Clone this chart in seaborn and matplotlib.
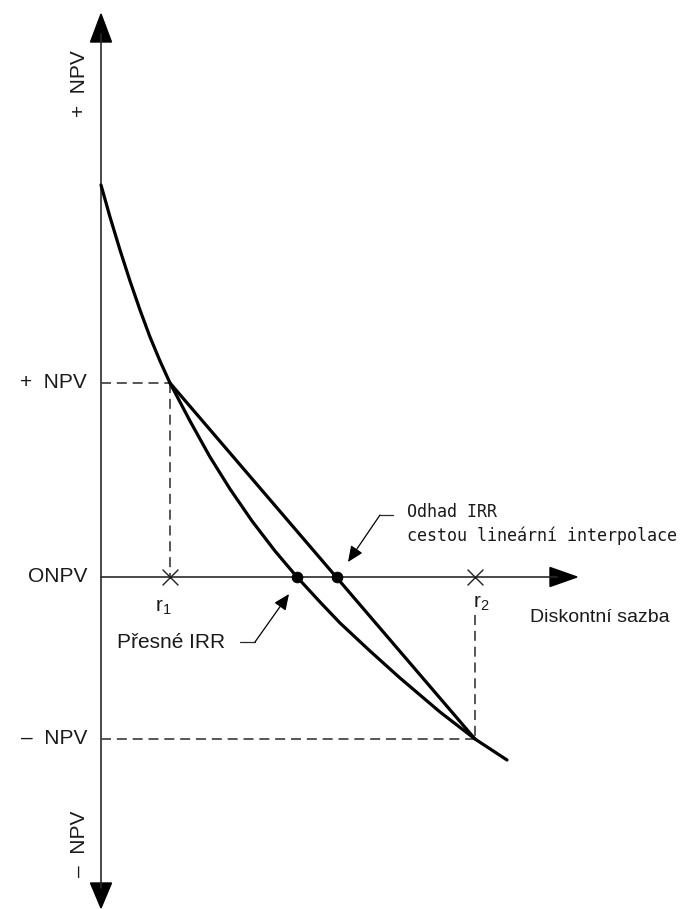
import pandas as pd
import seaborn as sns
import matplotlib.pyplot as plt

# NPV profile (arbitrary units, origin where the axes cross)
rate = [0, 9, 19, 29, 39, 49, 59, 69, 89, 109, 129, 151, 174, 196,
        219, 239, 269, 299, 339, 374, 406]
npv = [392, 360, 327, 296, 267, 240, 216, 194, 156, 120, 88, 56, 26, 0,
       -25, -46, -74, -101, -135, -162, -183]

# the two trial rates and their NPVs
r1, r2 = 69, 374
npv_plus, npv_minus = 194, -162
irr_exact = 196
irr_linear = 236

# axis extents
x_end = 476
y_top, y_bottom = 563, -331

y_labels = ["+  NPV", "ONPV", "\u2013  NPV"]
y_label_vals = [npv_plus, 0, npv_minus]

sns.set_style("white")
plt.rcParams["font.family"] = ["Liberation Sans", "DejaVu Sans"]

fig = plt.figure(figsize=(6.98, 9.09), dpi=100)
ax = fig.add_axes([0, 0, 1, 1])
ax.set_xlim(-101, 597)
ax.set_ylim(-332, 577)
ax.axis("off")

axis_col = "#2a2a2a"
dash_col = "#3a3a3a"
txt_col = "#1a1a1a"

# axes with filled arrowheads
ax.plot([0, 0], [y_bottom + 20, y_top - 20], color=axis_col, lw=1.2)
ax.fill([-10.5, 10.5, 0], [y_top - 28, y_top - 28, y_top], color="black")
ax.fill([-10.5, 10.5, 0], [y_bottom + 25, y_bottom + 25, y_bottom], color="black")
ax.plot([0, x_end - 20], [0, 0], color=axis_col, lw=1.2)
ax.fill([x_end - 27, x_end - 27, x_end], [9.5, -9.5, 0], color="black")

# dashed guides
dash = (0, (6, 3.5))
ax.plot([0, r1], [npv_plus, npv_plus], color=dash_col, lw=1.2, ls=dash)
ax.plot([r1, r1], [npv_plus, 0], color=dash_col, lw=1.2, ls=dash)
ax.plot([0, r2], [npv_minus, npv_minus], color=dash_col, lw=1.2, ls=dash)
ax.plot([r2, r2], [-38, npv_minus], color=dash_col, lw=1.2, ls=dash)

# NPV curve and the interpolation chord
curve_df = pd.DataFrame({"rate": rate, "npv": npv})
sns.lineplot(data=curve_df, x="rate", y="npv", sort=False, estimator=None,
             color="black", linewidth=2.3, ax=ax)
chord_df = pd.DataFrame({"rate": [r1, r2], "npv": [npv_plus, npv_minus]})
sns.lineplot(data=chord_df, x="rate", y="npv", sort=False, estimator=None,
             color="black", linewidth=2.3, ax=ax)

# trial rates on the axis and the two IRR points
sns.scatterplot(x=[r1, r2], y=[0, 0], marker="x", s=130, linewidth=1.0,
                color="#222222", ax=ax, zorder=4)
sns.scatterplot(x=[irr_exact, irr_linear], y=[0, 0], s=60, color="black",
                edgecolor="black", ax=ax, zorder=5)

# labels on the vertical axis
for lab, val in zip(y_labels, y_label_vals):
    ax.text(-14, val, lab, ha="right", va="center", fontsize=15, color=txt_col)
ax.text(-21, 493, "+  NPV", rotation=90, ha="center", va="center",
        fontsize=15, color=txt_col)
ax.text(-21, -267, "\u2013  NPV", rotation=90, ha="center", va="center",
        fontsize=15, color=txt_col)

ax.text(r1 - 15, -30, r"$\mathregular{r_1}$", ha="left", va="center",
        fontsize=15, color=txt_col)
ax.text(r2 - 2, -26, r"$\mathregular{r_2}$", ha="left", va="center",
        fontsize=15, color=txt_col)
ax.text(429, -41, "Diskontní sazba", ha="left", va="center",
        fontsize=14, color=txt_col)

# annotations
ax.text(306, 53, "Odhad IRR\ncestou lineární interpolace", ha="left",
        va="center", fontsize=12, family="DejaVu Sans Mono", linespacing=1.35,
        color=txt_col)
ax.plot([292, 279], [62, 62], color=axis_col, lw=0.9)
ax.annotate("", xy=(247, 15), xytext=(279, 62),
            arrowprops=dict(arrowstyle="-|>,head_length=0.8,head_width=0.35",
                            color="black", lw=0.9, mutation_scale=12,
                            shrinkA=0, shrinkB=0))

ax.text(16, -66, "Přesné IRR", ha="left", va="center", fontsize=15,
        color=txt_col)
ax.plot([139, 154], [-65, -65], color=axis_col, lw=0.9)
ax.annotate("", xy=(188, -17), xytext=(154, -65),
            arrowprops=dict(arrowstyle="-|>,head_length=0.8,head_width=0.35",
                            color="black", lw=0.9, mutation_scale=12,
                            shrinkA=0, shrinkB=0))

fig.savefig("out.png", dpi=100)
plt.close()
